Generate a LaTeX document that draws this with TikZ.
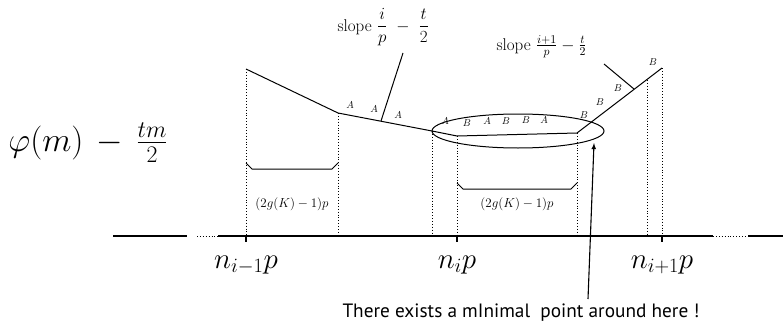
\documentclass[tikz,border=0pt]{standalone}
\usepackage{fix-cm}
\usepackage{amsmath}
\usepackage{fontspec}
\newfontfamily\notefont{PT Sans}
\usetikzlibrary{shapes.geometric,calc}

\begin{document}
\begin{tikzpicture}[x=1pt, y=-1pt, line width=1pt,
		ablabel/.style={font=\fontsize{10}{12}\selectfont, inner sep=0pt},
		lenlabel/.style={font=\fontsize{13}{15}\selectfont, inner sep=0pt},
		slopelabel/.style={font=\fontsize{17}{20}\selectfont, inner sep=0pt, anchor=base west},
		ticklabel/.style={font=\fontsize{29}{32}\selectfont, inner sep=0pt, anchor=base},
		guide/.style={dotted, line width=0.9pt}]
	\useasboundingbox (0,0) rectangle (783,321);
	
	% Define coordinates
	\coordinate (O) at (0,236);
	\coordinate (c1) at (246,69);
	\coordinate (c2) at (338,113);
	\coordinate (c3) at (432,131);
	\coordinate (c4) at (457,136);
	\coordinate (c5) at (577,133);
	\coordinate (c6) at (662,68);
	\coordinate (c7) at (647,80);
	
	% Horizontal axis
	\draw[line width=1.2pt] (113,236) -- (187,236);
	\draw[guide] (197,236) -- (218,236);
	\draw[line width=1.2pt] (218,236) -- (713,236);
	\draw[guide] (713,236) -- (748,236);
	\draw[line width=1.2pt] (748,236) -- (783,236);
	
	% Ticks and labels
	\foreach \c/\t in {c1/{n_{i-1}p}, c4/{n_ip}, c6/{n_{i+1}p}} {
		\draw[line width=1.2pt] (\c |- O) -- ++(0,6);
		\node[ticklabel] (t\c) at ($(\c |- O)+(0,32)$) {$\t$};
	}
	
	% Dotted guides
	\foreach \c in {c1,c2,c3,c4,c5,c6,c7}
		\draw[guide] (\c) -- (\c |- O);
	
	% The polygon
	\draw (c1) -- (c2) -- (c3) -- (c4) -- (c5) -- (c6);
	
	% Ellipse around the flat part
	\node[draw, ellipse, minimum width=172pt, minimum height=34pt, inner sep=0pt] (oval) at (518,131) {};
	
	% Letters on the edges
	\foreach \x/\y/\l [count=\k] in {350/105/A, 374/109/A, 398/115/A, 445/121/A, 467/123/B, 487/121/A,
		506/121/B, 526/120/B, 544/120/A, 584/115/B, 600/102/B, 618/88/B, 653/62/B}
		\node[ablabel] (lab\k) at (\x,\y) {$\l$};
	
	% Slopes
	\coordinate (s1a) at (403,53);
	\coordinate (s1b) at (381,121);
	\coordinate (s2a) at (604,64);
	\coordinate (s2b) at (634,89);
	\draw (s1a) -- (s1b);
	\draw (s2a) -- (s2b);
	\node[slopelabel] (slopeI) at (337,31) {slope~$\dfrac{i}{p}\ -\ \dfrac{t}{2}$};
	\node[slopelabel] (slopeII) at (496,50) {slope $\frac{i+1}{p}-\frac{t}{2}$};
	
	% Brackets
	\draw (c1 |- 0,163) -- (252,169) -- (332,169) -- (c2 |- 0,163);
	\draw (c4 |- 0,183) -- (463,189) -- (571,189) -- (c5 |- 0,183);
	\node[lenlabel] (len1) at (292,204) {$(2g(K)-1)p$};
	\node[lenlabel] (len2) at (517,204) {$(2g(K)-1)p$};
	
	% Function
	\node[font=\fontsize{34}{40}\selectfont, inner sep=0pt, anchor=west] (phi) at (8,143) {$\varphi(m)\,-\,\frac{tm}{2}$};
	
	% Minimal point
	\coordinate (minpt) at (594,143);
	\coordinate (foot) at (588,299);
	\draw[-latex, line width=1.1pt] (foot) -- (minpt);
	\node[font=\notefont\fontsize{19.3}{22}\selectfont, inner sep=0pt, anchor=base west] (note) at (342,317) {There exists a mInimal\ \ point around here !};
\end{tikzpicture}
\end{document}
